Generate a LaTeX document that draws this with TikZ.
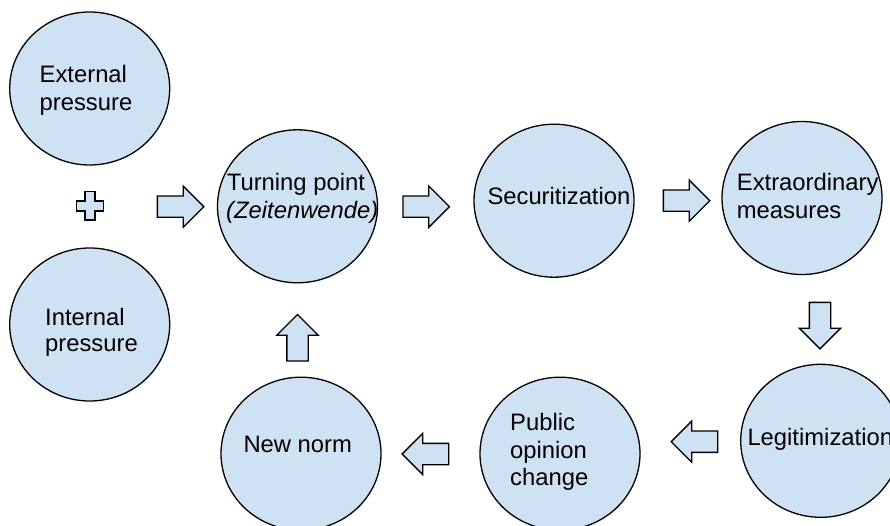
\documentclass[tikz,border=0pt]{standalone}
\usepackage{fontspec}
\setmainfont{Liberation Sans}
\usetikzlibrary{shapes.geometric,shapes.arrows}
\definecolor{bubble}{HTML}{CFE2F3}
\tikzset{
  stage/.style={ellipse, draw=black, fill=bubble, line width=1.3pt,
    minimum width=160pt, minimum height=153pt, inner sep=0pt},
  caption/.style={anchor=base west, inner sep=0pt,
    font=\fontsize{23.8}{27.5}\selectfont},
  flow/.style={single arrow, draw=black, fill=bubble, line width=1.3pt,
    inner xsep=0pt, inner ysep=10pt, minimum height=46.5pt,
    single arrow head extend=10pt, single arrow head indent=0pt,
    anchor=tail},
  plusmark/.style={draw=black, fill=bubble, line width=1.3pt}
}
\begin{document}
\begin{tikzpicture}[x=1pt,y=-1pt]
\useasboundingbox (0,0) rectangle (890,526);

% stages of the cycle
\node[stage] (ext) at (89.7,88.5) {};
\node[stage] (int) at (89.7,324.5) {};
\node[stage] (turn) at (297.5,206.3) {};
\node[stage] (sec) at (554,200.7) {};
\node[stage] (extra) at (802,198) {};
\node[stage] (legit) at (820.7,440.8) {};
\node[stage] (pub) at (560,453.7) {};
\node[stage] (norm) at (301,453.7) {};

% labels
\node[caption] (extA) at (39.5,82.7) {External};
\node[caption] (extB) at (39.5,110.2) {pressure};
\node[caption] (intA) at (45,325) {Internal};
\node[caption] (intB) at (45,351.7) {pressure};
\node[caption] (turnA) at (226.7,190.7) {Turning point};
\node[caption] (turnB) at (226,218.3) {\itshape(Zeitenwende)};
\node[caption] (secA) at (487.3,205) {Securitization};
\node[caption] (extraA) at (736.7,190.7) {Extraordinary};
\node[caption] (extraB) at (736.7,218.3) {measures};
\node[caption] (legitA) at (747.3,445.7) {Legitimization};
\node[caption] (pubA) at (510,430.7) {Public};
\node[caption] (pubB) at (510,458.3) {opinion};
\node[caption] (pubC) at (510,485.7) {change};
\node[caption] (normA) at (243.3,452.7) {New norm};

% plus sign between the two pressures
\draw[plusmark] (85,191.7) -- (95,191.7) -- (95,201) -- (103.3,201) -- (103.3,211)
  -- (95,211) -- (95,220) -- (85,220) -- (85,211) -- (76.7,211) -- (76.7,201)
  -- (85,201) -- cycle;

% block arrows along the cycle, placed by their tails
\node[flow] (a1) at (156.7,206.7) {};
\node[flow] (a2) at (402.3,206.7) {};
\node[flow] (a3) at (662.7,200.7) {};
\node[flow, rotate=-90] (a4) at (820,301.7) {};
\node[flow, rotate=180] (a5) at (718.3,441.7) {};
\node[flow, rotate=180] (a6) at (449.3,454) {};
\node[flow, rotate=90] (a7) at (297.5,361.7) {};
\end{tikzpicture}
\end{document}
